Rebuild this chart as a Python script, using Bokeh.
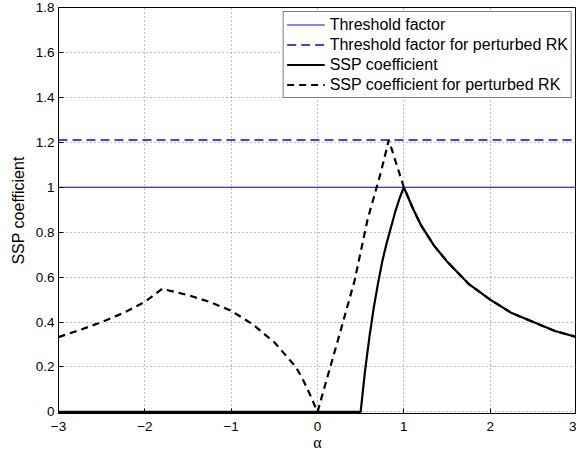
from bokeh.plotting import figure
from bokeh.models import Range1d, FixedTicker, Legend, LegendItem
from bokeh.embed import file_html
from bokeh.resources import INLINE

# ---- data ----
x_ticks = [-3, -2, -1, 0, 1, 2, 3]
x_tick_labels = ["\u22123", "\u22122", "\u22121", "0", "1", "2", "3"]
y_ticks = [0, 0.2, 0.4, 0.6, 0.8, 1.0, 1.2, 1.4, 1.6, 1.8]
y_tick_labels = ["0", "0.2", "0.4", "0.6", "0.8", "1", "1.2", "1.4", "1.6", "1.8"]

threshold_alpha = [-3, 3]
threshold = [1.0, 1.0]
threshold_pert = [1.21, 1.21]

ssp_alpha = [-3, 0.5, 0.55, 0.6, 0.65, 0.7, 0.75, 0.8, 0.85, 0.9, 0.95, 1.0,
             1.1, 1.2, 1.35, 1.5, 1.75, 2.0, 2.25, 2.5, 2.75, 3.0]
ssp = [0, 0, 0.18, 0.33, 0.46, 0.57, 0.67, 0.75, 0.82, 0.89, 0.95, 1.0,
       0.91, 0.83, 0.74, 0.67, 0.57, 0.5, 0.44, 0.4, 0.36, 0.333]

pert_alpha = [-3, -2.75, -2.5, -2.25, -2.0, -1.8, -1.5, -1.25, -1.0, -0.75, -0.5,
              -0.25, -0.17, -0.09, 0, 0.27, 0.43, 0.58, 0.735, 0.826, 1.0,
              1.1, 1.2, 1.35, 1.5, 1.75, 2.0, 2.25, 2.5, 2.75, 3.0]
ssp_pert = [0.333, 0.365, 0.40, 0.44, 0.49, 0.548, 0.52, 0.49, 0.45, 0.39, 0.31,
            0.2, 0.145, 0.08, 0, 0.365, 0.585, 0.856, 1.068, 1.21, 1.0,
            0.91, 0.83, 0.74, 0.67, 0.57, 0.5, 0.44, 0.4, 0.36, 0.333]

FONT = "Liberation Sans"

p = figure(width=576, height=458,
           x_range=Range1d(-3, 3), y_range=Range1d(-0.007, 1.8),
           output_backend="svg", toolbar_location=None,
           min_border_left=58, min_border_right=0,
           min_border_top=7, min_border_bottom=45)

p.outline_line_color = "black"
p.outline_line_width = 1
p.background_fill_color = "white"
p.border_fill_color = "white"

# axes
xa = p.xaxis[0]
xa.ticker = FixedTicker(ticks=x_ticks)
xa.major_label_overrides = dict(zip(x_ticks, x_tick_labels))
xa.axis_label = "\u03b1"
xa.axis_label_text_font = "Liberation Serif"
xa.axis_label_text_font_style = "normal"
xa.axis_label_text_font_size = "16px"
xa.axis_label_standoff = 0

ya = p.yaxis[0]
ya.ticker = FixedTicker(ticks=y_ticks)
ya.major_label_overrides = dict(zip(y_ticks, y_tick_labels))
ya.axis_label = "SSP coefficient"
ya.axis_label_text_font = FONT
ya.axis_label_text_font_style = "normal"
ya.axis_label_text_font_size = "16px"
ya.axis_label_standoff = 6

for ax in (xa, ya):
    ax.major_tick_in = 5
    ax.major_tick_out = 0
    ax.minor_tick_line_color = None
    ax.major_tick_line_color = "black"
    ax.major_label_text_font = FONT
    ax.major_label_text_font_size = "13.5px"
    ax.major_label_text_color = "black"
    ax.axis_label_text_color = "black"
    ax.axis_line_color = "black"
xa.major_label_standoff = 8
ya.major_label_standoff = 4

# grid
for g in (p.xgrid[0], p.ygrid[0]):
    g.grid_line_color = "#808080"
    g.grid_line_dash = "1 3"
    g.grid_line_width = 1
p.ygrid[0].ticker = FixedTicker(ticks=y_ticks)
p.xgrid[0].ticker = FixedTicker(ticks=x_ticks)

# lines
r_thr = p.line(threshold_alpha, threshold, line_color="#0000ff", line_width=1.2)
r_thr_p = p.line(threshold_alpha, threshold_pert, line_color="#0000ff",
                 line_width=1.6, line_dash="9 5")
r_pert = p.line(pert_alpha, ssp_pert, line_color="black", line_width=2.2,
                line_dash="7 5")
r_ssp = p.line(ssp_alpha, ssp, line_color="black", line_width=2.2)

legend = Legend(items=[
    LegendItem(label="Threshold factor", renderers=[r_thr]),
    LegendItem(label="Threshold factor for perturbed RK", renderers=[r_thr_p]),
    LegendItem(label="SSP coefficient", renderers=[r_ssp]),
    LegendItem(label="SSP coefficient for perturbed RK", renderers=[r_pert]),
], location="top_right")
legend.label_text_font = FONT
legend.label_text_font_size = "16px"
legend.label_text_color = "black"
legend.border_line_color = "black"
legend.border_line_width = 1
legend.background_fill_alpha = 1
legend.padding = 3
legend.spacing = 1
legend.margin = 4
legend.label_height = 19
legend.glyph_height = 19
legend.glyph_width = 38
legend.label_standoff = 5
p.add_layout(legend)

open("out.html", "w").write(file_html(p, INLINE))
